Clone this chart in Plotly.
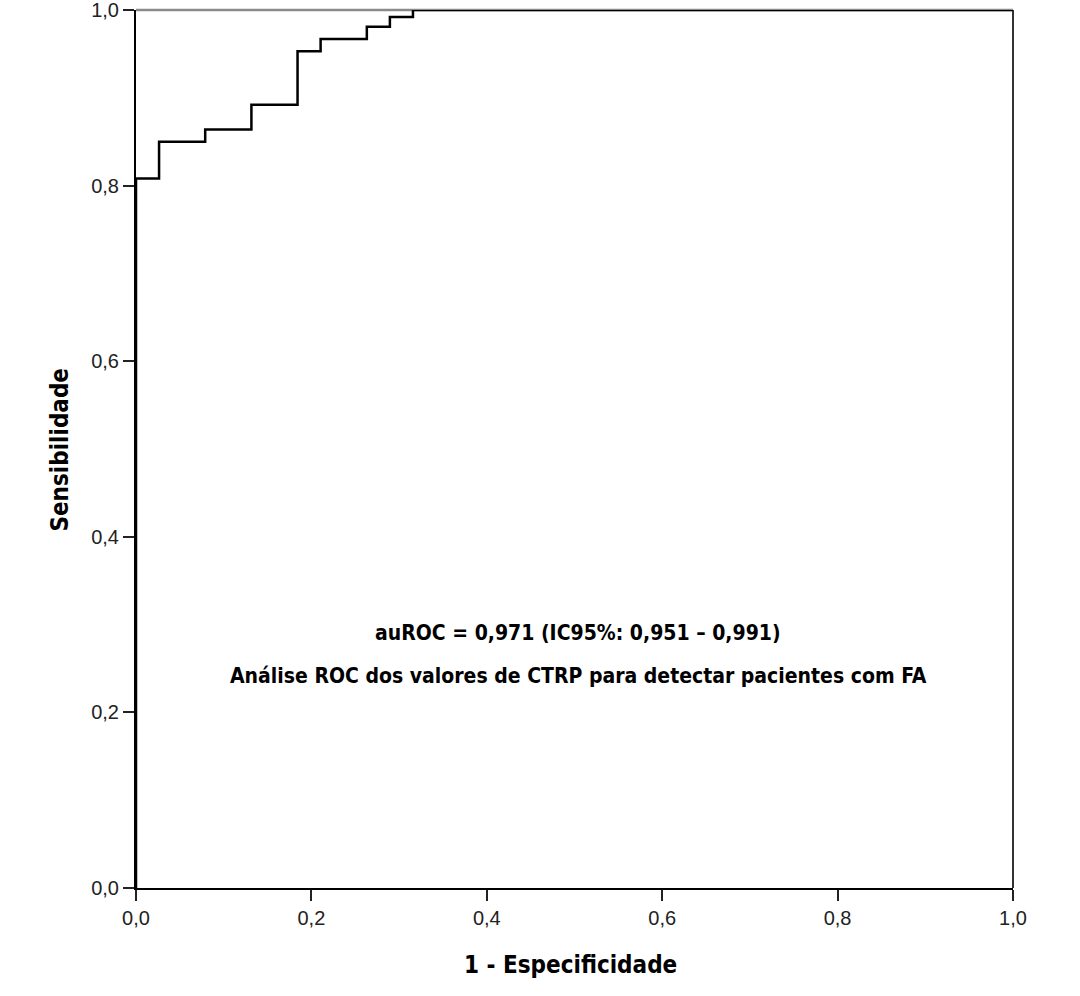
import plotly.graph_objects as go

# ROC step curve (1 - specificity, sensitivity)
fpr = [0.0, 0.0, 0.0263, 0.0263, 0.0789, 0.0789, 0.1316, 0.1316, 0.1842, 0.1842,
       0.2105, 0.2105, 0.2632, 0.2632, 0.2895, 0.2895, 0.3158, 0.3158, 1.0]
tpr = [0.0, 0.808, 0.808, 0.850, 0.850, 0.864, 0.864, 0.892, 0.892, 0.953,
       0.953, 0.967, 0.967, 0.981, 0.981, 0.992, 0.992, 1.0, 1.0]

tick_vals = [0.0, 0.2, 0.4, 0.6, 0.8, 1.0]
tick_text = ["0,0", "0,2", "0,4", "0,6", "0,8", "1,0"]

narrow = "Liberation Sans Narrow, DejaVu Sans Condensed, Arial Narrow, Roboto, sans-serif"
tickf = dict(family="Liberation Sans, Arial, sans-serif", size=20, color="#222")

fig = go.Figure()
fig.add_trace(go.Scatter(x=fpr, y=tpr, mode="lines",
                         line=dict(color="black", width=2.5),
                         cliponaxis=False, showlegend=False, hoverinfo="skip"))

fig.update_layout(
    width=1080, height=996,
    margin=dict(l=136, r=67, t=10, b=108),
    paper_bgcolor="white", plot_bgcolor="white",
    xaxis=dict(range=[0, 1], tickvals=tick_vals, ticktext=tick_text,
               showgrid=False, zeroline=False, showline=True, automargin=False,
               ticklabeloverflow="allow",
               linecolor="black", linewidth=2, ticks="outside",
               ticklen=11, tickwidth=2, tickcolor="#222", tickfont=tickf),
    yaxis=dict(range=[0, 1], tickvals=tick_vals, ticktext=tick_text,
               showgrid=False, zeroline=False, showline=True, automargin=False,
               ticklabeloverflow="allow",
               linecolor="black", linewidth=2, ticks="outside",
               ticklen=11, tickwidth=2, tickcolor="#222", tickfont=tickf),
    shapes=[
        dict(type="line", xref="paper", yref="paper", x0=0, x1=1, y0=1, y1=1,
             line=dict(color="#8a8a8a", width=2.5), layer="below"),
        dict(type="line", xref="paper", yref="paper", x0=1, x1=1, y0=0, y1=1,
             line=dict(color="#333", width=2), layer="below"),
    ],
    annotations=[
        dict(x=0.504, y=0.275, xref="paper", yref="paper", showarrow=False,
             text="<b>auROC = 0,971 (IC95%: 0,951 – 0,991)</b>",
             font=dict(family=narrow, size=21, color="black")),
        dict(x=0.504, y=0.225, xref="paper", yref="paper", showarrow=False,
             text="<b>Análise ROC dos valores de CTRP para detectar pacientes com FA</b>",
             font=dict(family=narrow, size=21, color="black")),
        dict(x=0.495, y=-0.088, xref="paper", yref="paper", showarrow=False,
             yanchor="middle", text="<b>1 - Especificidade</b>",
             font=dict(family=narrow, size=24, color="black")),
        dict(x=-0.087, y=0.499, xref="paper", yref="paper", showarrow=False,
             xanchor="center", textangle=-90, text="<b>Sensibilidade</b>",
             font=dict(family=narrow, size=24, color="black")),
    ],
)

fig.write_html("out.html")
